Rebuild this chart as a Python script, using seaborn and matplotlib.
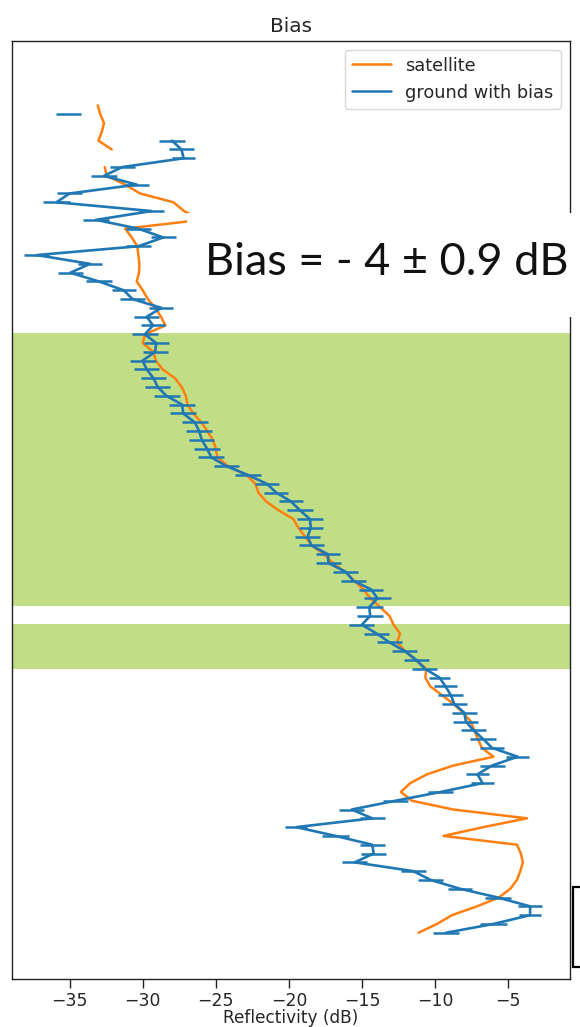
import numpy as np
import pandas as pd
import matplotlib
matplotlib.use("Agg")
import matplotlib.pyplot as plt
from matplotlib.lines import Line2D
from matplotlib.patches import Rectangle
import seaborn as sns

nan = np.nan

# range-gate index (top gate first)
height = np.arange(94, -1, -1)

satellite = [
    -33.08, -32.9, -32.65, -32.8, -33.03, -32.12, nan, -32.6, -32.46, -31.2,
    -30.18, -27.9, -27.17, -26.0, -31.2, -30.75, -30.37, -30.3, -30.23, -30.25,
    -30.41, -30.0, -29.65, -29.15, -28.75, -28.45, -29.84, -30.0, -29.27, -29.1,
    -28.63, -27.79, -27.33, -27.05, -26.94, -26.53, -26.0, -25.57, -25.2, -25.0,
    -24.89, -24.14, -22.88, -22.3, -22.08, -21.56, -20.71, -19.69, -19.35, -18.89,
    -18.43, -17.59, -17.0, -16.15, -15.53, -14.9, -14.44, -13.76, -13.12, -12.84,
    -12.39, -12.6, -12.04, -11.36, -10.6, -10.67, -10.33, -9.53, -8.74, -8.1,
    -7.55, -7.32, -7.07, -6.8, -6.0, -8.74, -10.56, -11.7, -12.34, -11.59,
    -8.74, -3.71, -6.7, -9.42, -4.4, -4.13, -3.99, -4.17, -4.4, -4.85,
    -5.65, -7.13, -8.84, -9.87, -11.13,
]

ground_with_bias = [
    nan, -35.07, nan, nan, -28.0, -27.35, -27.2, -31.4, -32.65, -30.4,
    -35.0, -35.9, -29.4, -33.2, -30.3, -28.6, -30.3, -37.25, -33.6, -34.95,
    -33.0, -31.3, -30.7, -28.72, -29.72, -29.3, -29.85, -29.08, -29.15, -30.01,
    -29.72, -29.26, -28.97, -28.37, -27.30, -27.23, -26.44, -26.14, -25.96, -25.6,
    -25.3, -24.25, -22.79, -21.5, -20.86, -19.86, -19.24, -18.56, -18.5, -18.72,
    -18.45, -17.33, -17.29, -16.1, -15.6, -14.37, -13.94, -14.5, -14.44, -15.01,
    -14.0, -13.12, -12.07, -11.28, -10.7, -9.7, -9.29, -8.92, -8.69, -8.0,
    -7.89, -7.37, -6.7, -6.1, -4.35, -6.1, -7.1, -6.75, -9.6, -12.7,
    -15.7, -14.3, -19.5, -16.8, -14.3, -14.2, -15.5, -11.5, -10.3, -8.3,
    -5.7, -3.5, -3.5, -6.0, -9.25,
]

ground_err = [
    nan, 0.86, nan, nan, 0.86, 0.88, 0.80, 0.86, 0.86, 0.80,
    0.86, 0.91, 0.86, 0.86, 0.86, 0.86, 0.86, 0.86, 0.80, 0.86,
    0.91, 0.82, 0.88, 0.82, 0.86, 0.80, 0.88, 0.86, 0.86, 0.89,
    0.86, 0.86, 0.86, 0.89, 0.88, 0.89, 0.88, 0.89, 0.86, 0.88,
    0.89, 0.86, 0.88, 0.83, 0.83, 0.84, 0.86, 0.86, 0.80, 0.84,
    0.86, 0.83, 0.83, 0.86, 0.86, 0.83, 0.91, 0.91, 0.88, 0.86,
    0.86, 0.88, 0.86, 0.86, 0.86, 0.74, 0.78, 0.86, 0.86, 0.86,
    0.86, 0.86, 0.89, 0.80, 0.80, 0.86, 0.80, 0.80, 0.86, 0.86,
    0.86, 0.86, 0.74, 0.91, 0.86, 0.86, 0.86, 0.86, 0.86, 0.80,
    0.86, 0.80, 0.74, 0.91, 0.86,
]

green_bands = [(37.07, 68.15), (29.97, 35.08)]
xticks = [-35, -30, -25, -20, -15, -10, -5]

ORANGE = "#ff7f0e"
BLUE = "#1f77b4"
GREEN = "#c1de86"

sns.set_theme(style="ticks")
plt.rcParams["font.family"] = ["DejaVu Sans"]

df = pd.DataFrame({
    "height": height,
    "satellite": satellite,
    "ground": ground_with_bias,
    "err": ground_err,
})


def segments(col):
    d = df[["height", col]].copy()
    isn = d[col].isna()
    d["seg"] = isn.cumsum()
    return d[~isn]


fig = plt.figure(figsize=(5.8, 10.27), dpi=100)
ax = fig.add_axes([0.0205, 0.0467, 0.9615, 0.9137])

for lo, hi in green_bands:
    ax.axhspan(lo, hi, color=GREEN, lw=0, zorder=0)

sat = segments("satellite")
sns.lineplot(data=sat, x="satellite", y="height", units="seg", estimator=None,
             sort=False, orient="y", color=ORANGE, lw=1.8, ax=ax, zorder=3)

gr = segments("ground")
sns.lineplot(data=gr, x="ground", y="height", units="seg", estimator=None,
             sort=False, orient="y", color=BLUE, lw=1.9, ax=ax, zorder=4)
ax.errorbar(df["ground"], df["height"], xerr=df["err"], fmt="none",
            ecolor=BLUE, elinewidth=1.8, capsize=0, zorder=4)

ax.set_xlim(-38.95, -0.8)
ax.set_ylim(-5.26, 101.36)
ax.set_xticks(xticks)
ax.set_yticks([])
ax.set_ylabel("")
ax.tick_params(axis="x", labelsize=12.4, length=6.5, width=1.0,
               color="#222222", pad=2.5)
ax.set_xlabel("Reflectivity (dB)", fontsize=12.2, labelpad=-0.5)
ax.set_title("Bias", fontsize=14.4, pad=6)
for sp in ax.spines.values():
    sp.set_visible(True)
    sp.set_linewidth(1.0)
    sp.set_color("#222222")

handles = [Line2D([], [], color=ORANGE, lw=1.8),
           Line2D([], [], color=BLUE, lw=1.8)]
ax.legend(handles, ["satellite", "ground with bias"], loc="upper right",
          fontsize=12.8, handlelength=2.2, framealpha=0.8)

# overlay annotation box
fig.patches.append(Rectangle((187 / 580, 1 - 317 / 1027), 0.7, 104 / 1027,
                             transform=fig.transFigure, facecolor="white",
                             edgecolor="none", zorder=5))
fig.text(205 / 580, 1 - 275 / 1027, "Bias = - 4 \u00b1 0.9 dB", fontsize=32.5,
         family=["Lato", "DejaVu Sans"], ha="left", va="baseline", zorder=6,
         color="#111111")
fig.patches.append(Rectangle((573 / 580, 1 - 967 / 1027), 0.1, 80 / 1027,
                             transform=fig.transFigure, facecolor="white",
                             edgecolor="black", lw=1.6, zorder=5))

fig.savefig("out.png", dpi=100)
